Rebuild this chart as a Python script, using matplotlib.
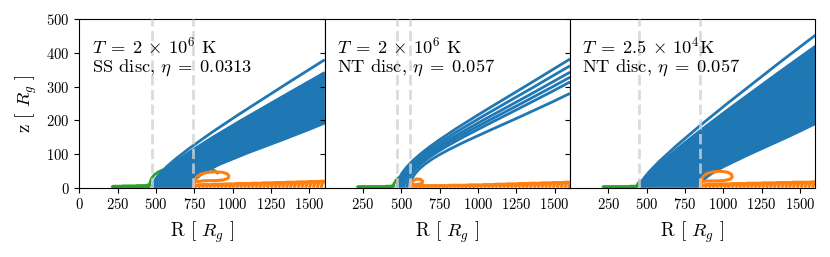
import numpy as np
import matplotlib
matplotlib.use('Agg')
import matplotlib.pyplot as plt
from matplotlib.path import Path
from matplotlib.patches import PathPatch

plt.rcParams['font.family'] = 'serif'
plt.rcParams['font.serif'] = ['cmr10']
plt.rcParams['mathtext.fontset'] = 'cm'
plt.rcParams['axes.formatter.use_mathtext'] = True
plt.rcParams['axes.unicode_minus'] = False

blue = '#1f77b4'
orange = '#ff7f0e'
green = '#2ca02c'

# ---------------- panel texts ----------------
panel_text = [r'$T\;=\;2\,\times\,10^6$ K' + '\n' + r'SS disc, $\eta\;=\;0.0313$',
              r'$T\;=\;2\,\times\,10^6$ K' + '\n' + r'NT disc, $\eta\;=\;0.057$',
              r'$T\;=\;2.5\,\times\,10^4$K' + '\n' + r'NT disc, $\eta\;=\;0.057$']

# dashed vertical markers (R_g)
dash_in = [476, 474, 452]
dash_out = [740, 557, 846]

# ---------------- escaping streamlines (blue) ----------------
# launch radius and height reached at R = 1600
fan1_R0 = [476, 485, 494, 503, 512, 521, 530, 539, 548, 557, 566, 575, 584, 593, 602,
           611, 620, 629, 638, 647, 656, 665, 674, 683, 692, 701, 710, 719, 728, 737]
fan1_zend = [380, 342, 336, 330, 325, 320, 314, 308, 302, 296, 290, 284, 278, 272, 266,
             260, 254, 248, 242, 236, 230, 225, 220, 215, 210, 206, 202, 198, 195, 192]

fan2_R0 = [472, 487, 502, 518, 536, 556]
fan2_zend = [382, 362, 343, 328, 314, 280]

fan3_R0 = [452, 465, 478, 490, 503, 516, 528, 541, 554, 567, 579, 592, 605, 617, 630, 643,
           655, 668, 681, 694, 706, 719, 732, 744, 757, 770, 782, 795, 808, 821, 833, 846]
fan3_zend = [453, 420, 412, 405, 398, 391, 384, 377, 370, 362, 354, 346, 338, 330, 322, 314,
             306, 298, 290, 282, 274, 266, 258, 250, 242, 234, 226, 218, 210, 202, 196, 190]

# curve shape of each panel: knee height and end-slope factor
fan_knee = [58, 88, 45]
fan_slope = [0.85, 0.83, 0.88]

# ---------------- failed inner streamlines (green) ----------------
gr1_R0 = [210, 222, 234, 246, 258, 270, 282, 294, 306, 318, 330, 342, 354, 366, 378, 390,
          402, 414, 426, 438, 448]
gr1_h = [4, 4, 4, 4, 4, 5, 5, 5, 5, 5, 5, 5, 5, 6, 6, 6, 6, 6, 7, 8, 10]
gr1_edge_R = [452, 460, 470, 488, 512, 540, 580, 650, 760, 850, 885, 900]
gr1_edge_z = [0, 14, 27, 38, 46, 52, 56, 60, 62, 58, 50, 44]

gr2_R0 = [210, 222, 234, 246, 258, 270, 282, 294, 306, 318, 330, 342, 354, 366, 378, 390,
          402, 414, 426, 438]
gr2_h = [3, 3, 3, 3, 3, 3, 3, 3, 3, 3, 3, 3, 3, 3, 3, 4, 4, 4, 5, 6]
gr2_edge_R = [440, 450, 462, 475, 490]
gr2_edge_z = [0, 10, 20, 27, 32]

gr3_R0 = [210, 222, 234, 246, 258, 270, 282, 294, 306, 318, 330, 342, 354, 366, 378, 390,
          402, 414, 426]
gr3_h = [3, 3, 3, 3, 3, 3, 3, 3, 3, 3, 3, 3, 3, 3, 4, 4, 4, 4, 5]
gr3_edge_R = [428, 436, 445, 455]
gr3_edge_z = [0, 7, 14, 20]

# ---------------- failed outer streamlines (orange) ----------------
or1_R0 = [750, 775, 800, 825, 850, 875, 900, 925, 950, 975, 1000, 1025, 1050, 1075, 1100,
          1125, 1150, 1175, 1200, 1225, 1250, 1275, 1300, 1325, 1350, 1375, 1400, 1425,
          1450, 1475, 1500, 1525, 1550, 1575]
or1_h = [8, 9, 9, 9, 10, 10, 10, 11, 11, 11, 12, 12, 12, 12, 13, 13, 13, 14, 14, 14, 15,
         15, 15, 16, 16, 16, 17, 17, 17, 18, 18, 18, 19, 19]
or1_loop_R = [748, 752, 765, 790, 830, 880, 930, 962, 976, 970, 940, 890, 840, 800, 772]
or1_loop_z = [0, 18, 32, 40, 45, 47, 46, 42, 35, 28, 23, 21, 21, 20, 18]

or2_R0 = [565, 590, 615, 640, 665, 690, 715, 740, 765, 790, 815, 840, 865, 890, 915, 940,
          965, 990, 1015, 1040, 1065, 1090, 1115, 1140, 1165, 1190, 1215, 1240, 1265, 1290,
          1315, 1340, 1365, 1390, 1415, 1440, 1465, 1490, 1515, 1540, 1565, 1590]
or2_h = [6, 6, 6, 6, 6, 6, 6, 6, 6, 7, 7, 7, 7, 7, 8, 8, 8, 8, 9, 9, 9, 10, 10, 10, 11,
         11, 11, 12, 12, 12, 13, 13, 13, 14, 14, 14, 15, 15, 15, 16, 16, 16]
or2_loop_R = [560, 565, 578, 600, 625, 640, 635, 612, 590, 572]
or2_loop_z = [0, 12, 21, 26, 25, 19, 13, 10, 9, 9]

or3_R0 = [855, 880, 905, 930, 955, 980, 1005, 1030, 1055, 1080, 1105, 1130, 1155, 1180,
          1205, 1230, 1255, 1280, 1305, 1330, 1355, 1380, 1405, 1430, 1455, 1480, 1505,
          1530, 1555, 1580]
or3_h = [9, 10, 10, 10, 11, 11, 11, 12, 12, 12, 12, 13, 13, 13, 13, 14, 14, 14, 14, 15,
         15, 15, 15, 16, 16, 16, 16, 16, 17, 17]
or3_loop_R = [848, 852, 866, 892, 932, 980, 1028, 1052, 1058, 1044, 1000, 950, 900, 868]
or3_loop_z = [0, 18, 33, 42, 47, 49, 46, 40, 32, 25, 21, 20, 20, 19]

fans = [(fan1_R0, fan1_zend), (fan2_R0, fan2_zend), (fan3_R0, fan3_zend)]
greens = [(gr1_R0, gr1_h, gr1_edge_R, gr1_edge_z),
          (gr2_R0, gr2_h, gr2_edge_R, gr2_edge_z),
          (gr3_R0, gr3_h, gr3_edge_R, gr3_edge_z)]
oranges = [(or1_R0, or1_h, or1_loop_R, or1_loop_z),
           (or2_R0, or2_h, or2_loop_R, or2_loop_z),
           (or3_R0, or3_h, or3_loop_R, or3_loop_z)]

R_max = 1600
lw = 2.0


def draw_fan(ax, R0s, zends, knee, slope_fac):
    # each escaping streamline is a cubic bezier, launched vertically
    for R0, zend in zip(R0s, zends):
        dx = R_max - R0
        s = slope_fac * zend / dx
        d2 = 0.6 * dx
        verts = [(R0, 0), (R0, knee), (R_max - d2, zend - s * d2), (R_max, zend)]
        codes = [Path.MOVETO, Path.CURVE4, Path.CURVE4, Path.CURVE4]
        ax.add_patch(PathPatch(Path(verts, codes), facecolor='none',
                               edgecolor=blue, lw=lw, zorder=2))


def draw_short(ax, R0s, hs, color, rise, run, zorder):
    # short streamlines that lift off and stay low
    for R0, h in zip(R0s, hs):
        ax.plot([R0, R0 + 0.4 * rise, R0 + rise, R0 + run], [0, 0.6 * h, h, h + 0.5],
                color=color, lw=2.2, zorder=zorder, solid_capstyle='butt')


fig = plt.figure(figsize=(8.3, 2.57), dpi=100)
W, H = 830., 257.
x_left = [79.3, 324.6, 570.0]
ax_w = 245.4
ax_bot = 187.7
ax_h = 168.4

for ii in range(3):
    ax = fig.add_axes([x_left[ii] / W, (H - ax_bot) / H, ax_w / W, ax_h / H])

    g_R0, g_h, g_eR, g_ez = greens[ii]
    draw_short(ax, g_R0, g_h, green, 12, 20, 1)
    ax.plot(g_eR, g_ez, color=green, lw=lw, zorder=1)

    draw_fan(ax, fans[ii][0], fans[ii][1], fan_knee[ii], fan_slope[ii])

    o_R0, o_h, o_lR, o_lz = oranges[ii]
    draw_short(ax, o_R0, o_h, orange, 22, 45, 3)
    ax.plot(o_lR, o_lz, color=orange, lw=2.2, zorder=3)

    for xv in (dash_in[ii], dash_out[ii]):
        ax.axvline(xv, color='lightgrey', ls='--', lw=2, alpha=0.8, zorder=4)

    ax.text(0.05, 0.9, panel_text[ii], transform=ax.transAxes, fontsize=13.3,
            va='top', ha='left', linespacing=1.05, zorder=5)

    ax.set_xlim(0, 1600)
    ax.set_ylim(0, 500)
    ax.set_yticks([0, 100, 200, 300, 400, 500])
    if ii == 0:
        ax.set_xticks([0, 250, 500, 750, 1000, 1250, 1500])
        ax.set_ylabel(r'z [ $R_g$ ]', fontsize=13.5, labelpad=5)
    else:
        ax.set_xticks([250, 500, 750, 1000, 1250, 1500])
        ax.set_yticklabels([])
    ax.tick_params(labelsize=10.5)
    ax.set_xlabel(r'R [ $R_g$ ]', fontsize=13.5, labelpad=5)

fig.savefig('out.png', dpi=100)
